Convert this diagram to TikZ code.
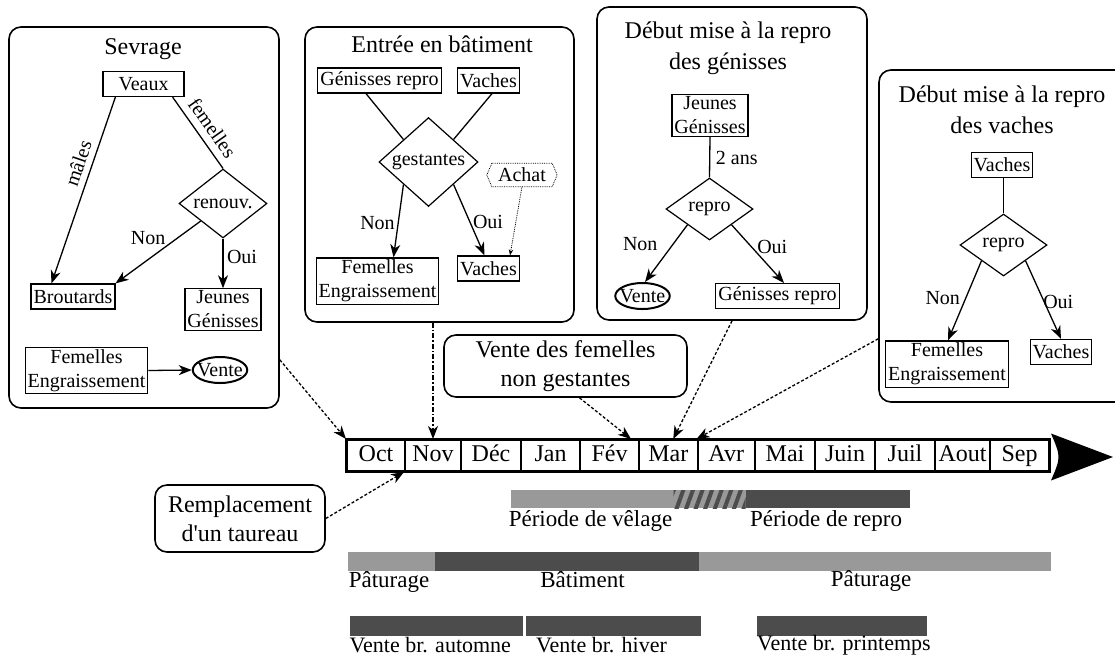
\documentclass[tikz,border=0pt]{standalone}
\usepackage{fontspec}
\setmainfont{Liberation Serif}
\usetikzlibrary{shapes.geometric,arrows.meta,patterns.meta,calc}
\definecolor{lightbar}{gray}{0.6}
\definecolor{darkbar}{gray}{0.3}
\tikzset{
  box/.style={draw, line width=1.2pt, inner xsep=2.5pt, inner ysep=2pt, minimum height=25pt, align=center, font=\fontsize{20}{24}\selectfont},
  frame/.style={draw, line width=1.6pt, rounded corners=12pt, align=center, font=\fontsize{24}{29}\selectfont},
  dia/.style={diamond, draw, line width=1.2pt, inner sep=0pt, font=\fontsize{20}{24}\selectfont},
  oval/.style={ellipse, draw, line width=2pt, inner xsep=-3.5pt, inner ysep=2.5pt, font=\fontsize{20}{24}\selectfont},
  title/.style={align=center, inner sep=0pt, font=\fontsize{24}{31}\selectfont},
  lab/.style={inner sep=1pt, font=\fontsize{20}{24}\selectfont},
  ln/.style={line width=1.3pt},
  arr/.style={ln, -{Stealth[length=13pt,width=10pt,inset=4pt]}},
  dasharr/.style={arr, dash pattern=on 3pt off 2pt},
  dashdotarr/.style={arr, dash pattern=on 5pt off 2pt on 1.5pt off 2pt},
  dotarr/.style={line width=0.8pt, densely dotted, -{Stealth[length=6pt,width=4.5pt]}},
  month/.style={draw, line width=2pt, minimum height=31pt, inner sep=0pt, text height=16pt, text depth=5pt, font=\fontsize{24}{24}\selectfont},
  barlab/.style={inner sep=0pt, font=\fontsize{23}{24}\selectfont},
  barlabs/.style={inner sep=0pt, font=\fontsize{22}{24}\selectfont},
}
\begin{document}
\begin{tikzpicture}[x=1pt,y=-1pt]
\useasboundingbox (0,0) rectangle (1115,657);

% ---------- Frame 1: Sevrage ----------
\node[frame, minimum width=270pt, minimum height=381pt] (f1) at (144,217.5) {};
\node[title] (t1) at (143,49) {Sevrage};
\node[box, minimum width=81pt] (veaux) at (143.5,84) {Veaux};
\node[dia, minimum width=88pt, minimum height=61pt] (renouv) at (223,203.5) {renouv.};
\node[box] (brout) at (73,296.5) {Broutards};
\node[box] (jg1) at (223,309.5) {Jeunes\\Génisses};
\node[box] (fe1) at (86.5,370.5) {Femelles\\Engraissement};
\node[oval] (v1) at (220,370) {Vente};
\draw[arr] ([xshift=13pt]veaux.south west) -- node[lab, sloped, above=5pt, pos=0.38] {mâles} ([xshift=21pt]brout.north west);
\draw[ln] ([xshift=-12pt]veaux.south east) -- node[lab, sloped, above=6pt, pos=0.55] {femelles} (renouv.north);
\draw[arr] (renouv.south west) -- node[lab, xshift=-10pt, yshift=14pt] {Non} (brout.north east);
\draw[arr] (renouv.south) -- node[lab, xshift=19pt, yshift=6pt] {Oui} (jg1.north);
\draw[arr] (fe1.east) -- (v1.west);

% ---------- Frame 2: Entree en batiment ----------
\node[frame, minimum width=269pt, minimum height=295pt] (f2) at (439.5,174.5) {};
\node[title] (t2) at (442,44) {Entrée en bâtiment};
\node[box] (gr2) at (379.5,80.5) {Génisses repro};
\node[box] (va2) at (488.5,80.5) {Vaches};
\node[dia, minimum width=99pt, minimum height=62pt] (gest) at (428.5,162) {gestantes};
\node[box] (fe2) at (377.5,281) {Femelles\\Engraissement};
\node[box] (vb2) at (488.5,268.5) {Vaches};
\node[inner sep=0pt, minimum width=60pt, minimum height=23pt, font=\fontsize{20}{24}\selectfont] (achat) at (522,175) {Achat};
\draw[line width=0.8pt, densely dotted] (achat.north west) -- (achat.north east) -- ([xshift=5pt]achat.east) -- (achat.south east) -- (achat.south west) -- ([xshift=-5pt]achat.west) -- cycle;
\draw[ln] ([xshift=-13.5pt]gr2.south) -- (gest.north west);
\draw[ln] ([xshift=3.5pt]va2.south) -- (gest.north east);
\draw[arr] (gest.south west) -- node[lab, xshift=-21pt, yshift=-2pt] {Non} ([xshift=16pt]fe2.north);
\draw[arr] (gest.south east) -- node[lab, xshift=19pt, yshift=-2pt] {Oui} ([xshift=-4pt]vb2.north);
\draw[dotarr] (achat.south) -- ([xshift=21.5pt]vb2.north);

% ---------- Frame 3: genisses ----------
\node[frame, minimum width=270pt, minimum height=313pt] (f3) at (732,163.5) {};
\node[title] (t3) at (728,48) {Début mise à la repro\\des génisses};
\node[box] (jg3) at (710,115.5) {Jeunes\\Génisses};
\node[dia, minimum width=87pt, minimum height=62pt] (rep3) at (709.5,209) {repro};
\node[oval] (v3) at (642.5,296) {Vente};
\node[box] (gr3) at (777.5,296) {Génisses repro};
\draw[ln] (jg3.south) -- node[lab, xshift=27pt, yshift=-1pt] {2 ans} (rep3.north);
\draw[arr] (rep3.south west) -- node[lab, xshift=-26pt, yshift=9pt] {Non} ([xshift=2.5pt]v3.north);
\draw[arr] (rep3.south east) -- node[lab, xshift=14.5pt, yshift=6.5pt] {Oui} ([xshift=6.5pt]gr3.north);

% ---------- Frame 4: vaches ----------
\node[frame, minimum width=260pt, minimum height=332pt] (f4) at (1009,236) {};
\node[title] (t4) at (1002,110) {Début mise à la repro\\des vaches};
\node[box] (va4) at (1002,165) {Vaches};
\node[dia, minimum width=87pt, minimum height=62pt] (rep4) at (1003.5,245) {repro};
\node[box] (fe4) at (947,364) {Femelles\\Engraissement};
\node[box] (vb4) at (1061,352) {Vaches};
\draw[ln] (rep4.north |- va4.south) -- (rep4.north);
\draw[arr] (rep4.south west) -- node[lab, xshift=-22pt, yshift=3pt] {Non} ([xshift=1pt]fe4.north);
\draw[arr] (rep4.south east) -- node[lab, xshift=15pt, yshift=-2pt] {Oui} (vb4.north);

% ---------- Callouts ----------
\node[frame, minimum width=243pt, minimum height=62pt] (vfem) at (565.5,366) {Vente des femelles\\non gestantes};
\node[frame, minimum width=170pt, minimum height=67pt] (rempl) at (240,518.5) {Remplacement\\d\textquotesingle un taureau};

% ---------- Timeline ----------
\foreach \a/\b/\m [count=\i] in {347/405/Oct,405/461/Nov,461/521/Déc,521/580/Jan,580/639/Fév,639/697.5/Mar,697.5/755/Avr,755/815/Mai,815/875/Juin,875/935/Juil,935/990/Aout,990/1049/Sep}
  \node[month, minimum width={(\b-\a)*1pt}] (m\i) at ({(\a+\b)/2},455.5) {\m};
\draw[line width=2.4pt] (m1.north west) rectangle (m12.south east);
\fill ($(m12.east)+(1,-22)$) -- ($(m12.east)+(63,1.5)$) -- ($(m12.east)+(1,25)$) .. controls ($(m12.east)+(11,1.5)$) .. ($(m12.east)+(1,-22)$) -- cycle;

% ---------- Connectors to the timeline ----------
\draw[dasharr] ($(f1.south east)+(0,-49)$) -- (m1.north west);
\draw[dashdotarr] (m2.north |- f2.south) -- (m2.north);
\draw[dasharr] ([xshift=14pt]vfem.south) -- ([xshift=-9pt]m5.north east);
\draw[dasharr] (f3.south) -- ([xshift=5pt]m6.north);
\draw[dasharr] ($(f4.south west)+(0,-64)$) -- (m7.north west);
\draw[dasharr] (rempl.east) -- (m2.south west);

% ---------- Bars ----------
\fill[lightbar] (510.6,490) rectangle (673.6,508);
\fill[lightbar] (673.6,490) rectangle (745.7,508);
\fill[pattern={Lines[angle=70,distance=9pt,line width=4pt]}, pattern color=darkbar] (673.6,490) rectangle (745.7,508);
\fill[darkbar] (745.7,490) rectangle (909.6,508);
\node[barlab] (pv) at (590.5,521) {Période de vêlage};
\node[barlab] (pr) at (826,521) {Période de repro};

\fill[lightbar] (347.7,552) rectangle (435,571);
\fill[darkbar] (435,552) rectangle (699,571);
\fill[lightbar] (699,552) rectangle (1050.7,571);
\node[barlab, anchor=west] (pa1) at (348.6,582) {Pâturage};
\node[barlab] (bat) at (582.5,580) {Bâtiment};
\node[barlab] (pa2) at (871,581) {Pâturage};

\fill[darkbar] (349.5,616) rectangle (523,636);
\fill[darkbar] (525.5,616) rectangle (701,636);
\fill[darkbar] (757,616) rectangle (927,636);
\node[barlabs, anchor=west] (vba) at (349.5,645) {Vente br. automne};
\node[barlabs, anchor=west] (vbh) at (536,645) {Vente br. hiver};
\node[barlabs, anchor=west] (vbp) at (757,645) {Vente br. printemps};
\end{tikzpicture}
\end{document}
